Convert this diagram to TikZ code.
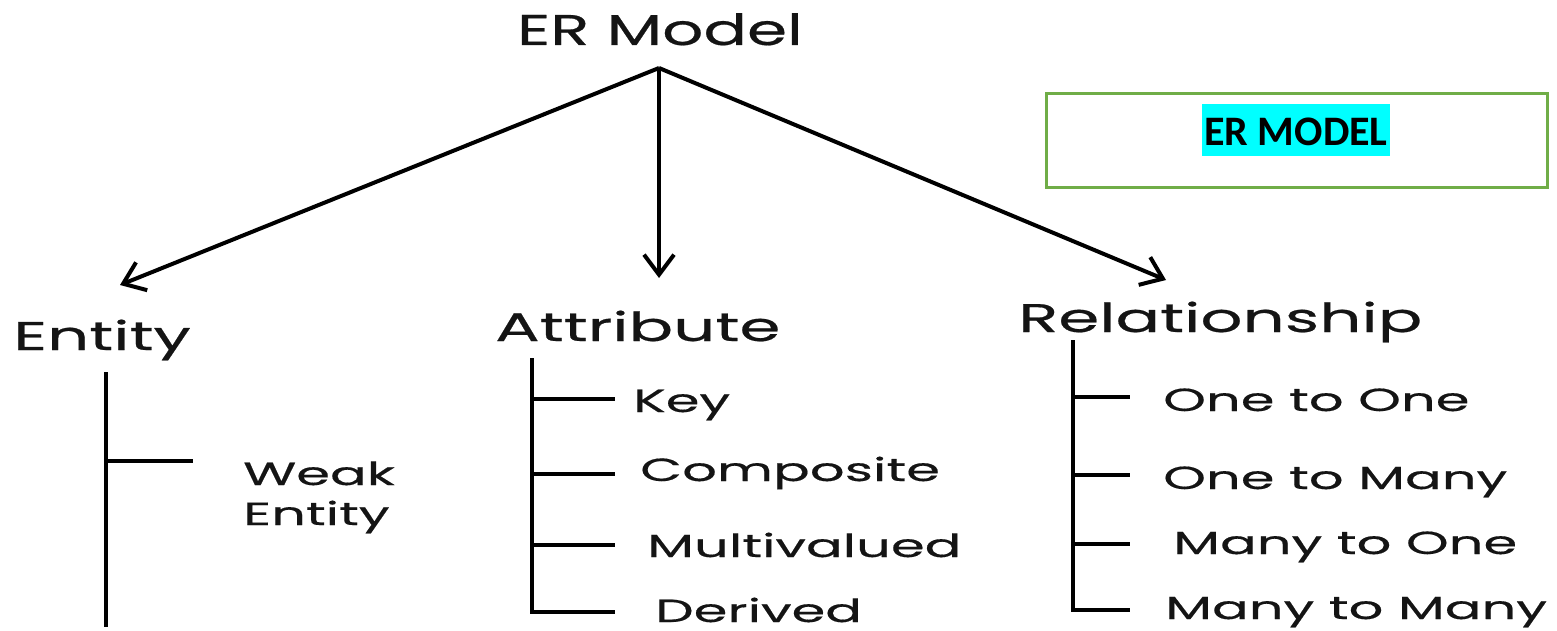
\documentclass[tikz,border=0pt]{standalone}
\usepackage{fontspec}
\setmainfont[FakeStretch=1.5,FakeBold=0.5]{Poppins}
\newfontfamily\catfont[FakeStretch=1.65,FakeBold=0.5]{Poppins}
\newfontfamily\itemfont[FakeStretch=1.7,FakeBold=0.4]{Poppins}
\newfontfamily\boxfont{Carlito}
\usetikzlibrary{arrows.meta}
\definecolor{boxgreen}{HTML}{70AD47}
\definecolor{hl}{HTML}{00FFFF}
\tikzset{
  lbl/.style={inner sep=0pt, anchor=base west, text=black!92},
  toplbl/.style={lbl, font=\fontsize{43}{50}\selectfont},
  cat/.style={lbl, font=\catfont\fontsize{40}{48}\selectfont},
  item/.style={lbl, font=\itemfont\fontsize{32}{40}\selectfont},
  arr/.style={line width=4pt, -{Straight Barb[length=20pt,width=30pt,line width=4pt]}},
  tree/.style={line width=4.5pt},
  greenbox/.style={draw=boxgreen, line width=3pt, fill=white}
}
\begin{document}
\begin{tikzpicture}[x=1pt,y=-1pt]
\useasboundingbox (0,0) rectangle (1557,631);
\fill[white] (0,0) rectangle (1557,631);

% titles
\node[toplbl, anchor=base] (er) at (660,45) {ER Model};
\node[cat] (entity) at (13,350) {Entity};
\node[cat] (attr) at (495,341) {Attribute};
\node[cat] (rel) at (1018,332) {Relationship};

% arrows
\coordinate (root) at (659,68);
\coordinate (tipE) at (120,285);
\coordinate (tipA) at (659,278);
\coordinate (tipR) at (1166,280);
\draw[arr] (root) -- (tipE);
\draw[arr] (root) -- (tipA);
\draw[arr] (root) -- (tipR);

% entity branch
\coordinate (e0) at (106,372);
\coordinate (e1) at (106,627);
\coordinate (eb) at (106,461);
\coordinate (ebe) at (193,461);
\draw[tree] (e0) -- (e1);
\draw[tree] (eb) -- (ebe);
\node[item, align=left] (weak) at (243,525) {Weak\\Entity};

% attribute branch
\coordinate (a0) at (532,358);
\coordinate (a1) at (532,399);
\coordinate (a2) at (532,474);
\coordinate (a3) at (532,545);
\coordinate (a4) at (532,612);
\draw[tree] (a0) -- (a4) -- (615,612);
\draw[tree] (a1) -- (615,399);
\draw[tree] (a2) -- (615,474);
\draw[tree] (a3) -- (615,545);
\node[item] (key) at (633,412) {Key};
\node[item] (comp) at (640,481) {Composite};
\node[item] (multi) at (647,557) {Multivalued};
\node[item] (der) at (655,622) {Derived};

% relationship branch
\coordinate (r0) at (1073,340);
\coordinate (r1) at (1073,397);
\coordinate (r2) at (1073,475);
\coordinate (r3) at (1073,544);
\coordinate (r4) at (1073,610);
\draw[tree] (r0) -- (r4) -- (1130,610);
\draw[tree] (r1) -- (1130,397);
\draw[tree] (r2) -- (1130,475);
\draw[tree] (r3) -- (1130,544);
\node[item] (oo) at (1163,411) {One to One};
\node[item] (om) at (1163,489) {One to Many};
\node[item] (mo) at (1173,554) {Many to One};
\node[item] (mm) at (1165,619) {Many to Many};

% ER MODEL box
\draw[greenbox] (1046,94) rectangle (1547,188);
\node[fill=hl, inner xsep=2pt, inner ysep=0pt, text height=42pt, text depth=10pt, anchor=base, font=\boxfont\bfseries\fontsize{42}{50}\selectfont] (box) at (1296,146) {ER MODEL};
\end{tikzpicture}
\end{document}
